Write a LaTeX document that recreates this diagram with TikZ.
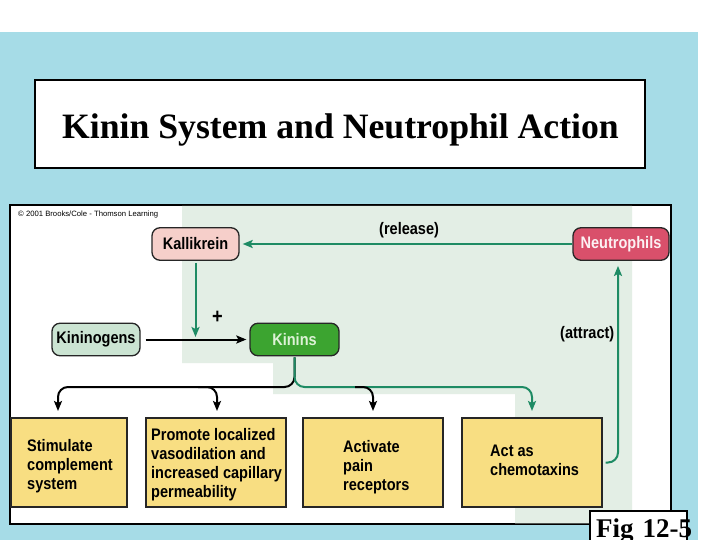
\documentclass[tikz,border=0pt]{standalone}
\usepackage{fontspec}
\setmainfont{Liberation Serif}
\setsansfont{Liberation Sans}
\newfontfamily\lab[FakeStretch=0.87]{Liberation Sans}
\usetikzlibrary{arrows.meta}

\definecolor{bgblue}{HTML}{A6DCE7}
\definecolor{panelgreen}{HTML}{E3EEE5}
\definecolor{linegreen}{HTML}{1E8B64}
\definecolor{kallfill}{HTML}{F6CFCA}
\definecolor{neufill}{HTML}{D9506B}
\definecolor{kgfill}{HTML}{CBE4D2}
\definecolor{kinfill}{HTML}{3CA430}
\definecolor{kintext}{HTML}{DDF2D6}
\definecolor{boxyellow}{HTML}{F8DE82}

\begin{document}
\begin{tikzpicture}[x=1pt,y=-1pt,
  labfont/.style={font=\lab\bfseries\fontsize{16.7}{19}\selectfont},
  pill/.style={draw=black!85, line width=1.3pt, rounded corners=8pt, inner sep=0pt,
    minimum height=32.5pt, labfont},
  effbox/.style={draw=black!85, line width=1.3pt, fill=boxyellow, inner sep=0pt,
    minimum width=140pt, minimum height=89pt},
  efftext/.style={anchor=north west, inner sep=0pt, align=left, labfont},
  arrowtip/.style={-{Stealth[length=10pt,width=8pt,inset=2pt]}},
  gline/.style={draw=linegreen, line width=2pt, arrowtip},
  bline/.style={draw=black, line width=2pt, arrowtip},
  lbl/.style={inner sep=0pt, labfont}
]
\useasboundingbox (0,0) rectangle (720,540);
\fill[white] (0,0) rectangle (720,540);
\fill[bgblue] (0,32) rectangle (698,540);

% title
\node[draw=black, line width=1.3pt, fill=white, minimum width=610pt, minimum height=88pt, inner sep=0pt]
  (titlebox) at (340,124) {};
\node[anchor=base, inner sep=0pt, font=\bfseries\fontsize{35.7}{40}\selectfont]
  (title) at (340.5,139) {Kinin System and Neutrophil Action};

% panel
\draw[fill=white, line width=1.3pt] (10,205) rectangle (671,524);
\fill[panelgreen] (182,206) -- (632,206) -- (632,523.3) -- (515,523.3) -- (515,394)
  -- (273,394) -- (273,363) -- (182,363) -- cycle;
\node[anchor=base west, inner sep=0pt, font=\sffamily\fontsize{7.7}{9}\selectfont]
  (copy) at (18,216) {© 2001 Brooks/Cole - Thomson Learning};

% nodes
\node[pill, fill=kallfill, minimum width=87pt] (kall) at (195.5,244) {Kallikrein};
\node[pill, fill=neufill, minimum width=96pt, text=white!92!neufill] (neu) at (621,244) {Neutrophils};
\node[pill, fill=kgfill, minimum width=88pt] (kg) at (96,339.5) {Kininogens};
\node[pill, fill=kinfill, minimum width=89pt, text=kintext] (kin) at (294.5,339.5) {Kinins};

\node[effbox, minimum width=116pt] (b1) at (69,462.5) {};
\node[effbox] (b2) at (216,462.5) {};
\node[effbox] (b3) at (373,462.5) {};
\node[effbox] (b4) at (532,462.5) {};

\node[efftext] (t1) at (27,439) {Stimulate\\complement\\system};
\node[efftext] (t2) at (151,428) {Promote localized\\vasodilation and\\increased capillary\\permeability};
\node[efftext] (t3) at (343,440) {Activate\\pain\\receptors};
\node[efftext] (t4) at (490,445) {Act as\\chemotaxins};

% labels
\node[lbl, anchor=base west] (rel) at (379,235) {(release)};
\node[lbl, anchor=base west] (att) at (560,338) {(attract)};
\node[inner sep=0pt, font=\lab\bfseries\fontsize{21}{22}\selectfont] (plus) at (217.5,317.5) {+};

% connectors
\draw[gline, shorten >=3pt] (neu.west) -- (kall.east);
\draw[gline] ([yshift=-2pt]kall.south) -- (195.5,337);
\draw[bline, shorten <=5pt, shorten >=3pt] (kg.east) -- (kin.west);

\draw[bline, rounded corners=10pt] ([yshift=-1pt]kin.south) |- (58,387) -- (58,411);
\draw[gline, rounded corners=10pt] ([yshift=-1pt]kin.south) |- (532,387) -- (532,411);
\draw[bline, rounded corners=10pt] (198,387) -- (217,387) -- (217,411);
\draw[bline, rounded corners=10pt] (355,387) -- (373,387) -- (373,411);

\draw[gline, rounded corners=10pt] ([xshift=3pt]b4.east) -- (618,462.5) -- ([xshift=-3pt,yshift=-5pt]neu.south);

% fig label
\node[draw=black, line width=1.3pt, fill=white, minimum width=97pt, minimum height=40pt, inner sep=0pt]
  (figbox) at (638.5,531) {};
\node[anchor=base west, inner sep=0pt, font=\bfseries\fontsize{27}{30}\selectfont]
  (fig) at (596,537) {Fig\,\,12-5};
\end{tikzpicture}
\end{document}
